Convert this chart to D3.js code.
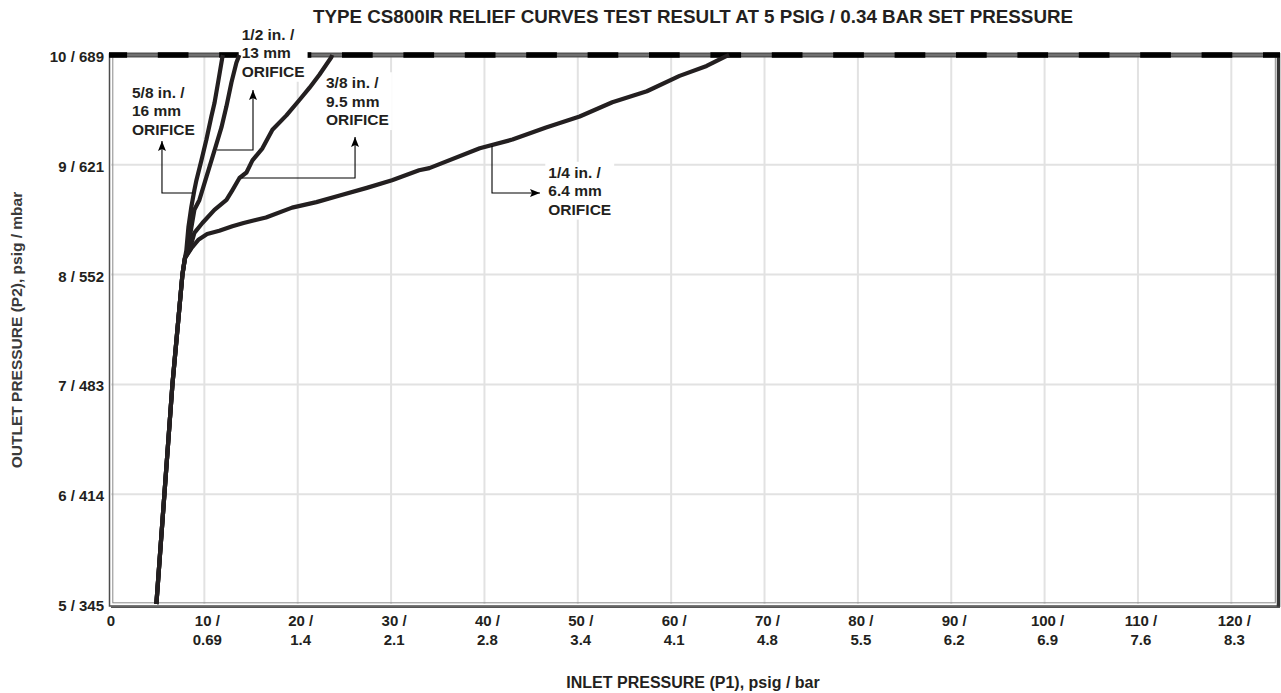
<!DOCTYPE html>
<html><head><meta charset="utf-8">
<script src="https://cdnjs.cloudflare.com/ajax/libs/d3/7.8.5/d3.min.js"></script>
<style>
html,body{margin:0;padding:0;background:#fff;}
svg{display:block;font-family:"Liberation Sans",Arial,Helvetica,sans-serif;}
</style></head><body>
<svg id="chart" width="1281" height="693"></svg>
<script>
// ---------- DATA ----------
const chartTitle = "TYPE CS800IR RELIEF CURVES TEST RESULT AT 5 PSIG / 0.34 BAR SET PRESSURE";
const xTitle = "INLET PRESSURE (P1), psig / bar";
const yTitle = "OUTLET PRESSURE (P2), psig / mbar";

const xTicks = [0,10,20,30,40,50,60,70,80,90,100,110,120];
const xTickLabels = [["0"],["10 /","0.69"],["20 /","1.4"],["30 /","2.1"],["40 /","2.8"],["50 /","3.4"],["60 /","4.1"],["70 /","4.8"],["80 /","5.5"],["90 /","6.2"],["100 /","6.9"],["110 /","7.6"],["120 /","8.3"]];
const yTicks = [5,6,7,8,9,10];
const yTickLabels = ["5 / 345","6 / 414","7 / 483","8 / 552","9 / 621","10 / 689"];

// common lower trunk shared by all orifice sizes  [inlet psig, outlet psig]
const trunk = [[4.86,5.0],[5.72,6.0],[6.58,7.0],[7.65,8.0],[7.92,8.15]];

const orifice14 = [[8.61,8.24],[9.4,8.32],[10.3,8.37],[11.6,8.40],[13.0,8.44],[14.2,8.47],[16.6,8.52],[19.4,8.61],[22.0,8.66],[24.5,8.72],[27.4,8.79],[30.1,8.86],[33.0,8.95],[34.1,8.97],[39.5,9.15],[43.0,9.23],[46.6,9.34],[50.2,9.44],[53.7,9.57],[57.4,9.67],[60.9,9.81],[63.8,9.90],[65.9,9.99],[66.2,10.0]];
const orifice38 = [[8.40,8.22],[8.93,8.38],[9.79,8.47],[11.08,8.59],[12.37,8.68],[13.01,8.77],[13.76,8.88],[14.51,8.93],[15.15,9.04],[16.22,9.15],[17.29,9.32],[18.79,9.45],[20.18,9.59],[21.25,9.70],[22.32,9.82],[23.6,9.98],[23.7,10.0]];
const orifice12 = [[8.18,8.22],[8.61,8.43],[8.93,8.59],[9.47,8.68],[10.22,8.89],[11.08,9.13],[11.83,9.34],[12.36,9.53],[12.90,9.75],[13.43,9.93],[13.75,10.0]];
const orifice58 = [[8.07,8.22],[8.29,8.43],[8.61,8.62],[8.93,8.77],[9.15,8.86],[9.68,9.04],[10.22,9.23],[10.75,9.44],[11.08,9.56],[11.51,9.77],[11.93,9.98],[11.99,10.0]];

const seriesNames = ["1/4 in. / 6.4 mm","3/8 in. / 9.5 mm","1/2 in. / 13 mm","5/8 in. / 16 mm"];
const seriesValues = [orifice14, orifice38, orifice12, orifice58];

const annoLabels = [["5/8 in. /","16 mm","ORIFICE"],["1/2 in. /","13 mm","ORIFICE"],["3/8 in. /","9.5 mm","ORIFICE"],["1/4 in. /","6.4 mm","ORIFICE"]];
const annoTextAt = [[2.25,9.611],[14.0,10.137],[23.03,9.697],[46.84,8.882]];
const annoArrows = [
  [[8.78,8.743],[5.46,8.743],[5.46,9.217]],
  [[11.35,9.135],[15.21,9.135],[15.21,9.681]],
  [[14.03,8.880],[26.14,8.880],[26.14,9.253]],
  [[40.81,9.171],[40.81,8.743],[45.95,8.743]]
];

// ---------- LAYOUT ----------
const L = 111, R = 1278, T = 55, B = 604;
const ink = "#231f20";
const svg = d3.select("#chart");
const x = d3.scaleLinear().domain([0,125]).range([L,R]);
const y = d3.scaleLinear().domain([5,10]).range([B,T]);

// grid
const grid = svg.append("g");
grid.selectAll("line.v").data(xTicks.filter(d=>d>0)).join("line")
  .attr("x1",d=>x(d)).attr("x2",d=>x(d)).attr("y1",T).attr("y2",B)
  .attr("stroke","#e2e2e2").attr("stroke-width",2);
grid.selectAll("line.h").data(yTicks.filter(d=>d>5&&d<10)).join("line")
  .attr("x1",L).attr("x2",R).attr("y1",d=>y(d)).attr("y2",d=>y(d))
  .attr("stroke","#e2e2e2").attr("stroke-width",2);

// frame (double line)
svg.append("rect").attr("x",L-1.5).attr("y",T-1).attr("width",R-L+2.5).attr("height",B-T+3)
  .attr("fill","none").attr("stroke","#4d4d4d").attr("stroke-width",1.5);
svg.append("rect").attr("x",L+1.8).attr("y",T+1).attr("width",R-L-4.5).attr("height",B-T-2.2)
  .attr("fill","none").attr("stroke","#8a8a8a").attr("stroke-width",1);
svg.append("line").attr("x1",R+0.5).attr("x2",R+0.5).attr("y1",T-2).attr("y2",B+3)
  .attr("stroke","#333").attr("stroke-width",3.5);
svg.append("line").attr("x1",L).attr("x2",R+2).attr("y1",B+3.2).attr("y2",B+3.2)
  .attr("stroke","#555").attr("stroke-width",1.5);

// top line at set-limit: gray band with black dashes
svg.append("line").attr("x1",L-2).attr("x2",R+2).attr("y1",y(10)).attr("y2",y(10))
  .attr("stroke","#555").attr("stroke-width",5);
svg.append("line").attr("x1",L-2).attr("x2",R+2).attr("y1",y(10)).attr("y2",y(10))
  .attr("stroke","#8c8c8c").attr("stroke-width",1.2);
svg.append("line").attr("x1",L-2).attr("x2",R+2).attr("y1",y(10)).attr("y2",y(10))
  .attr("stroke","#000").attr("stroke-width",5.5)
  .attr("stroke-dasharray","30.7,30.7").attr("stroke-dashoffset",12.6);

// annotation text groups (with white background boxes)
const annoG = svg.append("g");
const boxLayer = annoG.append("g");
const textLayer = svg.append("g");
annoLabels.forEach((lines,i)=>{
  const t = textLayer.append("text")
    .attr("x",x(annoTextAt[i][0])).attr("y",y(annoTextAt[i][1]))
    .attr("fill",ink).attr("font-size",15.5).attr("font-weight","bold");
  lines.forEach((s,j)=>t.append("tspan").attr("x",x(annoTextAt[i][0])).attr("dy",j===0?0:18.4).text(s));
  const bb = t.node().getBBox();
  boxLayer.append("rect").attr("x",bb.x-3).attr("y",bb.y-2).attr("width",bb.width+6).attr("height",bb.height+4)
    .attr("fill","#fff");
});

// curves
const line = d3.line().x(d=>x(d[0])).y(d=>y(d[1])).curve(d3.curveLinear);
const curveG = svg.insert("g", function(){return textLayer.node();});
seriesValues.forEach((vals,i)=>{
  curveG.append("path").datum(trunk.concat(vals)).attr("d",line)
    .attr("fill","none").attr("stroke",ink).attr("stroke-width",4.2)
    .attr("stroke-linejoin","round").attr("stroke-linecap","butt")
    .attr("data-name",seriesNames[i]);
});

// arrows
const defs = svg.append("defs");
defs.append("marker").attr("id","ah").attr("viewBox","0 0 10 8").attr("refX",10).attr("refY",4)
  .attr("markerWidth",10).attr("markerHeight",8).attr("markerUnits","userSpaceOnUse").attr("orient","auto")
  .append("path").attr("d","M0,0 L10,4 L0,8 L2,4 Z").attr("fill","#000");
const arrowG = svg.insert("g", function(){return textLayer.node();});
annoArrows.forEach(pts=>{
  arrowG.append("path").attr("d",d3.line().x(d=>x(d[0])).y(d=>y(d[1]))(pts))
    .attr("fill","none").attr("stroke","#000").attr("stroke-width",1.1).attr("marker-end","url(#ah)");
});

// x tick labels
const xl = svg.append("g");
xTicks.forEach((v,i)=>{
  const t = xl.append("text").attr("text-anchor","middle").attr("fill",ink)
    .attr("font-size",15).attr("font-weight","bold")
    .attr("x",x(v)+(v===0?0:3)).attr("y",B+22);
  xTickLabels[i].forEach((s,j)=>t.append("tspan").attr("x",x(v)+(v===0?0:3)).attr("dy",j===0?0:19).text(s));
});
// y tick labels
const yl = svg.append("g");
yTicks.forEach((v,i)=>{
  yl.append("text").attr("text-anchor","end").attr("fill",ink)
    .attr("font-size",15).attr("font-weight","bold")
    .attr("x",L-7).attr("y",y(v)+7).text(yTickLabels[i]);
});

// titles
svg.append("text").attr("x",693).attr("y",23).attr("text-anchor","middle")
  .attr("fill",ink).attr("font-size",18.8).attr("font-weight","bold").text(chartTitle);
svg.append("text").attr("x",693).attr("y",688).attr("text-anchor","middle")
  .attr("fill",ink).attr("font-size",16).attr("font-weight","bold").text(xTitle);
svg.append("text").attr("transform","translate(22,330) rotate(-90)").attr("text-anchor","middle")
  .attr("fill","#3a3a3a").attr("font-size",15.5).attr("font-weight","bold").text(yTitle);
</script>
</body></html>
